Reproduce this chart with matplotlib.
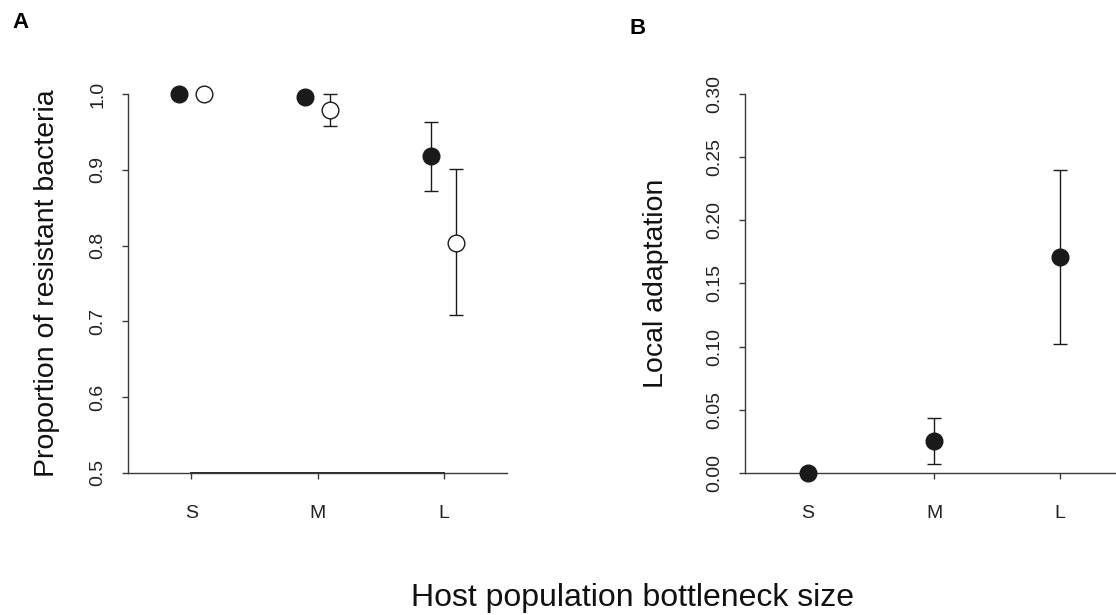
import numpy as np
import matplotlib
matplotlib.use("Agg")
import matplotlib.pyplot as plt

plt.rcParams['font.family'] = ['Liberation Sans', 'DejaVu Sans']

categories = ['S', 'M', 'L']

# panel A: proportion of resistant bacteria
resist_filled = [1.0, 0.996, 0.918]
resist_filled_lo = [1.0, 0.996, 0.872]
resist_filled_hi = [1.0, 0.996, 0.964]
resist_open = [1.0, 0.979, 0.804]
resist_open_lo = [1.0, 0.958, 0.708]
resist_open_hi = [1.0, 1.0, 0.901]

# panel B: local adaptation
local_adapt = [0.0, 0.025, 0.171]
local_adapt_lo = [0.0, 0.007, 0.102]
local_adapt_hi = [0.0, 0.043, 0.240]

yticks_a = [0.5, 0.6, 0.7, 0.8, 0.9, 1.0]
yticks_b = [0.0, 0.05, 0.10, 0.15, 0.20, 0.25, 0.30]

axis_col = '#3a3a3a'
mark_col = '#1a1a1a'


def style_axes(ax):
    for s in ['top', 'right']:
        ax.spines[s].set_visible(False)
    for s in ['left', 'bottom']:
        ax.spines[s].set_color(axis_col)
        ax.spines[s].set_linewidth(1.0)
    ax.set_xlim(0.5, 3.5)
    ax.set_xticks([1, 2, 3])
    ax.set_xticklabels(categories)
    ax.tick_params(axis='x', length=4, width=1, color=axis_col, pad=19, labelsize=14)
    ax.tick_params(axis='y', length=4, width=1, color=axis_col, pad=11.5, labelsize=14)
    for lab in ax.get_yticklabels():
        lab.set_rotation(90)
        lab.set_va('center')
    for lab in ax.get_xticklabels() + ax.get_yticklabels():
        lab.set_color('#222222')


def err(vals, lo, hi):
    vals, lo, hi = np.array(vals), np.array(lo), np.array(hi)
    return np.vstack([vals - lo, hi - vals])


fig = plt.figure(figsize=(11.16, 6.15), dpi=100)

x = np.arange(1, 4)

# Panel A
ax1 = fig.add_axes([0.1147, 0.2314, 0.3396, 0.6153])
ax1.plot([x[0], x[-1]], [0.5, 0.5], color='#151515', lw=1.3, clip_on=False, zorder=2.5)
ax1.errorbar(x - 0.1, resist_filled, yerr=err(resist_filled, resist_filled_lo, resist_filled_hi),
             fmt='o', ms=12, mfc=mark_col, mec=mark_col, ecolor=mark_col, elinewidth=1,
             capsize=5, capthick=1, clip_on=False, zorder=3)
ax1.errorbar(x + 0.1, resist_open, yerr=err(resist_open, resist_open_lo, resist_open_hi),
             fmt='o', ms=12, mfc='white', mec=mark_col, mew=1, ecolor=mark_col, elinewidth=1,
             capsize=5, capthick=1, clip_on=False, zorder=3)
ax1.set_ylim(0.5, 1.0)
ax1.set_yticks(yticks_a)
ax1.set_yticklabels([f'{v:.1f}' for v in yticks_a])
style_axes(ax1)
ax1.set_ylabel('Proportion of resistant bacteria', fontsize=20.5, color='#111111', va='center')
ax1.yaxis.set_label_coords(-0.215, 0.5)

# Panel B
ax2 = fig.add_axes([0.6676, 0.2314, 0.3387, 0.6153])
ax2.errorbar(x, local_adapt, yerr=err(local_adapt, local_adapt_lo, local_adapt_hi),
             fmt='o', ms=12, mfc=mark_col, mec=mark_col, ecolor=mark_col, elinewidth=1,
             capsize=5, capthick=1, clip_on=False, zorder=3)
ax2.set_ylim(0.0, 0.30)
ax2.set_yticks(yticks_b)
ax2.set_yticklabels([f'{v:.2f}' for v in yticks_b])
style_axes(ax2)
ax2.set_ylabel('Local adaptation', fontsize=20.5, color='#111111', va='center')
ax2.yaxis.set_label_coords(-0.235, 0.5)

fig.text(0.011, 0.963, 'A', fontsize=16, fontweight='bold', va='center', ha='left')
fig.text(0.564, 0.954, 'B', fontsize=16, fontweight='bold', va='center', ha='left')
fig.text(0.567, 0.0276, 'Host population bottleneck size', fontsize=23, ha='center', va='center',
         color='#111111')

fig.savefig('out.png', dpi=100)
